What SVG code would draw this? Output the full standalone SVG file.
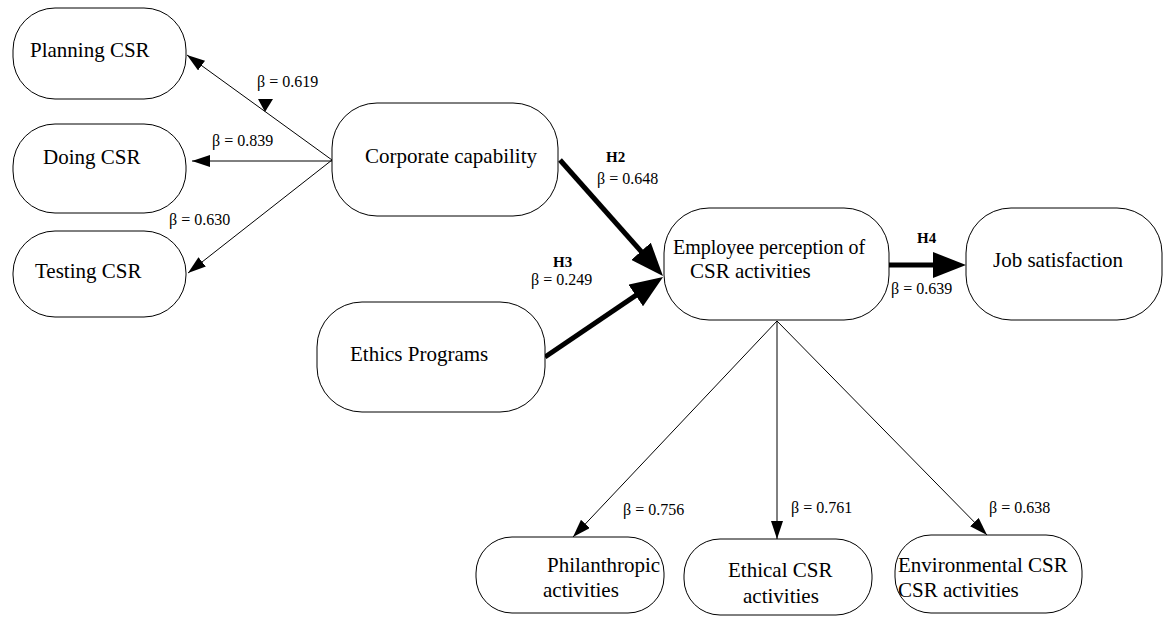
<svg xmlns="http://www.w3.org/2000/svg" width="1166" height="617" viewBox="0 0 1166 617" font-family="Liberation Serif, Times New Roman, serif">
<style>
.node rect{fill:#fff;stroke:#000;stroke-width:1}
.t{font-size:21px;fill:#000}
.lb{font-size:16px;fill:#000}
.h{font-size:15px;font-weight:bold;fill:#000}
.thin{stroke:#000;stroke-width:1;fill:none;marker-end:url(#ah)}
.thick{stroke:#000;stroke-width:5;fill:none;marker-end:url(#ahb)}
</style>
<defs>
<marker id="ah" markerUnits="userSpaceOnUse" markerWidth="18" markerHeight="12" refX="18" refY="6" orient="auto"><path d="M0,0 L18,6 L0,12 z" fill="#000"/></marker>
<marker id="ahb" markerUnits="userSpaceOnUse" markerWidth="34" markerHeight="26" refX="10" refY="13" orient="auto"><path d="M0,0 L33,13 L0,26 z" fill="#000"/></marker>
</defs>
<rect width="1166" height="617" fill="#fff"/>
<g id="connectors">
<line class="thin" x1="332" y1="160" x2="187" y2="55"/>
<polygon points="258,99 273,99 265,112" fill="#000"/>
<line class="thin" x1="332" y1="161" x2="192" y2="161"/>
<line class="thin" x1="332" y1="160" x2="188" y2="273"/>
<line class="thick" x1="560" y1="160" x2="647.7" y2="258.8"/>
<line class="thick" x1="545" y1="357" x2="644" y2="289.9"/>
<line class="thick" x1="889" y1="265" x2="943" y2="265"/>
<line class="thin" x1="777" y1="321" x2="573" y2="537"/>
<line class="thin" x1="777" y1="321" x2="777" y2="539"/>
<line class="thin" x1="777" y1="321" x2="987" y2="535"/>
<text class="lb" x="257" y="87">β = 0.619</text>
<text class="lb" x="212" y="146">β = 0.839</text>
<text class="lb" x="169" y="225">β = 0.630</text>
<text class="h" x="606" y="162">H2</text>
<text class="lb" x="597" y="184">β = 0.648</text>
<text class="h" x="553" y="267">H3</text>
<text class="lb" x="531" y="285">β = 0.249</text>
<text class="h" x="917" y="243">H4</text>
<text class="lb" x="891" y="294">β = 0.639</text>
<text class="lb" x="623" y="515">β = 0.756</text>
<text class="lb" x="791" y="513">β = 0.761</text>
<text class="lb" x="989" y="513">β = 0.638</text>
</g>
<g id="planning" class="node"><rect x="13" y="8" width="173" height="91" rx="42" ry="42"/><text class="t" x="30" y="57">Planning CSR</text></g>
<g id="doing" class="node"><rect x="13" y="124" width="173" height="89" rx="42" ry="42"/><text class="t" x="43" y="164">Doing CSR</text></g>
<g id="testing" class="node"><rect x="13" y="231" width="173" height="86" rx="42" ry="42"/><text class="t" x="35" y="278">Testing CSR</text></g>
<g id="corporate" class="node"><rect x="332" y="103" width="226" height="113" rx="45" ry="45"/><text class="t" x="365" y="163">Corporate capability</text></g>
<g id="ethics" class="node"><rect x="317" y="302" width="228" height="110" rx="45" ry="45"/><text class="t" x="350" y="361">Ethics Programs</text></g>
<g id="employee" class="node"><rect x="664" y="208" width="225" height="112" rx="45" ry="45"/><text class="t" x="673" y="254" style="font-size:20px">Employee perception of</text><text class="t" x="690" y="278">CSR activities</text></g>
<g id="job" class="node"><rect x="966" y="208" width="196" height="112" rx="45" ry="45"/><text class="t" x="993" y="267">Job satisfaction</text></g>
<g id="philanthropic" class="node"><rect x="476" y="537" width="188" height="76" rx="36" ry="36"/><text class="t" x="547" y="572">Philanthropic</text><text class="t" x="543" y="597">activities</text></g>
<g id="ethical" class="node"><rect x="684" y="539" width="188" height="76" rx="36" ry="36"/><text class="t" x="728" y="577">Ethical CSR</text><text class="t" x="743" y="603">activities</text></g>
<g id="environmental" class="node"><rect x="895" y="535" width="187" height="78" rx="36" ry="36"/><text class="t" x="898" y="572">Environmental CSR</text><text class="t" x="898" y="597">CSR activities</text></g>
</svg>
